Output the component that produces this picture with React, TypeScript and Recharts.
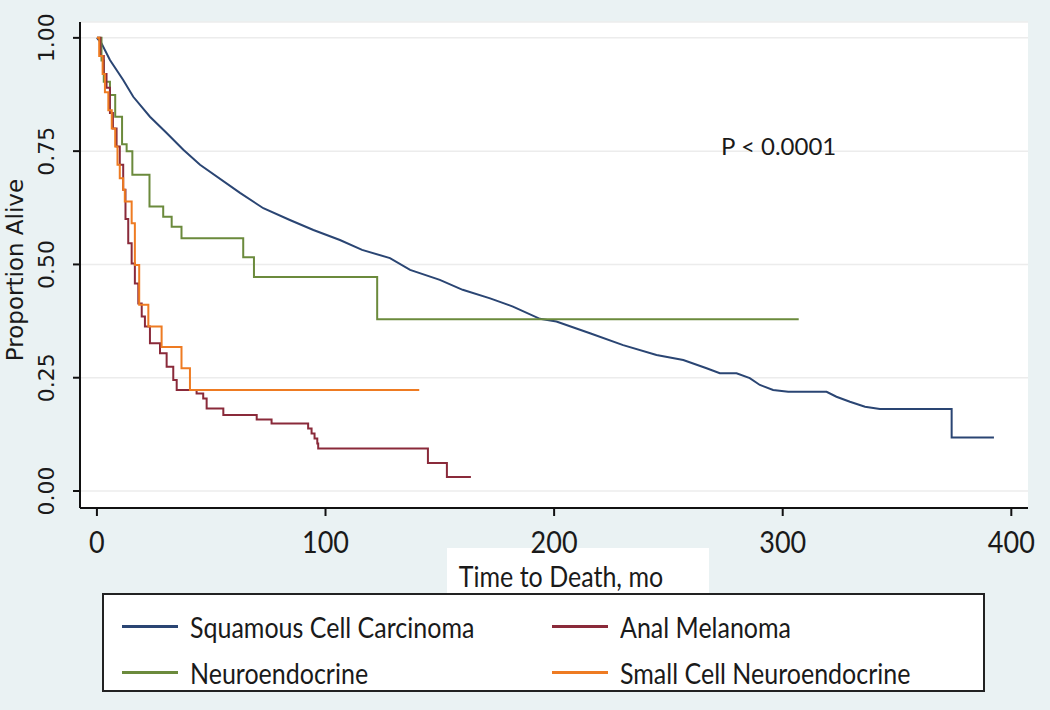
import React from "react";
import { LineChart, Line, XAxis, YAxis, CartesianGrid } from "recharts";

// ---- data ----
const xTicks = [0, 100, 200, 300, 400];
const yTicks = [0, 0.25, 0.5, 0.75, 1];

const squamousT = [0, 2, 5.7, 11.5, 15.9, 23.2, 30.5, 37.8, 45.1, 62.6, 72.8, 84.4, 94.7, 106.3, 116, 128.2, 137, 150, 160, 172, 182, 193.8, 201, 215.7, 230.2, 244.8, 256.5, 266.7, 272.5, 279.8, 285.6, 290, 295.8, 302.4, 319.2, 323.5, 329.4, 336, 342.5, 373.9, 373.9, 392.4];
const squamousP = [1, 0.988, 0.951, 0.907, 0.87, 0.826, 0.79, 0.753, 0.72, 0.658, 0.624, 0.598, 0.576, 0.554, 0.532, 0.514, 0.488, 0.466, 0.444, 0.425, 0.407, 0.38, 0.374, 0.348, 0.322, 0.3, 0.289, 0.271, 0.26, 0.26, 0.249, 0.234, 0.223, 0.219, 0.219, 0.208, 0.197, 0.186, 0.181, 0.181, 0.118, 0.118];

const melanomaT = [0, 1.5, 3, 4.2, 5.7, 7, 8.6, 10, 11.5, 12.5, 13.7, 15.2, 16.6, 18.1, 19.6, 21, 23.2, 27.6, 30.5, 33.4, 34.9, 43.6, 46.5, 48, 55.3, 69.9, 76.4, 92.4, 93.9, 95.2, 96.4, 96.8, 144.8, 153.1, 163.6];
const melanomaP = [1, 0.96, 0.92, 0.89, 0.834, 0.8, 0.76, 0.72, 0.665, 0.6, 0.547, 0.502, 0.458, 0.414, 0.385, 0.363, 0.326, 0.304, 0.274, 0.245, 0.223, 0.215, 0.204, 0.182, 0.168, 0.158, 0.149, 0.138, 0.127, 0.116, 0.105, 0.094, 0.062, 0.031, 0.031];

const neuroT = [0, 2, 3, 5.7, 8, 11, 13, 15.5, 23, 29, 32.7, 37, 64, 68.7, 122.6, 307];
const neuroP = [1, 0.95, 0.903, 0.874, 0.826, 0.765, 0.75, 0.698, 0.628, 0.605, 0.583, 0.558, 0.516, 0.472, 0.379, 0.379];

const smallCellT = [0, 1, 2.5, 3.5, 5, 6.5, 8, 9, 10, 11.5, 12.2, 15.2, 16.6, 18.5, 22.5, 28.3, 37, 40.7, 141];
const smallCellP = [1, 0.96, 0.92, 0.88, 0.84, 0.8, 0.76, 0.72, 0.69, 0.665, 0.639, 0.591, 0.499, 0.411, 0.363, 0.318, 0.271, 0.223, 0.223];

const seriesNames = ["Squamous Cell Carcinoma", "Anal Melanoma", "Neuroendocrine", "Small Cell Neuroendocrine"];
const seriesColors = ["#2a4573", "#8a2a3a", "#6b8a3c", "#ee7b22"];

const zip = (t: number[], p: number[]) => t.map((v, i) => ({ t: v, p: p[i] }));
const squamous = zip(squamousT, squamousP);
const melanoma = zip(melanomaT, melanomaP);
const neuro = zip(neuroT, neuroP);
const smallCell = zip(smallCellT, smallCellP);

const HFONT = "Lato, sans-serif";
const VFONT = "'DejaVu Sans', Verdana, sans-serif";

const XTick = (props: any) => {
  const { x, y, payload } = props;
  return (
    <text x={x} y={y + 23} textAnchor="middle" dominantBaseline="central" fontFamily={HFONT} fontSize={27} fill="#1a1a1a"
      transform={`translate(0, ${-(y + 23) * 0.12}) scale(1, 1.12)`}>
      {payload.value}
    </text>
  );
};

const YTick = (props: any) => {
  const { y, payload } = props;
  const cx = 47;
  return (
    <text x={cx} y={y} transform={`rotate(-90, ${cx}, ${y})`} textAnchor="middle" dominantBaseline="central" fontFamily={VFONT} fontSize={22} fill="#1a1a1a">
      {Number(payload.value).toFixed(2)}
    </text>
  );
};

const XTitle = () => (
  <g>
    <rect x={447} y={548} width={262} height={46} fill="#ffffff" />
    <text x={561} y={576} textAnchor="middle" dominantBaseline="central" fontFamily={HFONT} fontSize={25} fill="#1a1a1a"
      transform={`translate(0, ${-576 * 0.15}) scale(1, 1.15)`}>
      Time to Death, mo
    </text>
  </g>
);

const YTitle = () => (
  <text x={15} y={270} transform="rotate(-90, 15, 270)" textAnchor="middle" dominantBaseline="central" fontFamily={VFONT} fontSize={23} fill="#1a1a1a">
    Proportion Alive
  </text>
);

export default function App() {
  const legendItems = [
    { name: seriesNames[0], color: seriesColors[0], left: 18, top: 31 },
    { name: seriesNames[1], color: seriesColors[1], left: 448, top: 31 },
    { name: seriesNames[2], color: seriesColors[2], left: 18, top: 77 },
    { name: seriesNames[3], color: seriesColors[3], left: 448, top: 77 },
  ];
  return (
    <div style={{ position: "absolute", left: 0, top: 0, width: 1050, height: 710, background: "#eaf2f3", overflow: "hidden" }}>
      <LineChart width={1050} height={710} margin={{ top: 22, right: 22, bottom: 162, left: 20 }}>
        <CartesianGrid horizontal vertical={false} stroke="#ececec" strokeWidth={1.5} fill="#ffffff" />
        <XAxis
          type="number"
          dataKey="t"
          domain={[-7.4, 407.3]}
          ticks={xTicks}
          allowDataOverflow
          height={40}
          tickSize={8}
          axisLine={{ stroke: "#111", strokeWidth: 2 }}
          tickLine={{ stroke: "#111", strokeWidth: 2 }}
          tick={<XTick />}
          label={<XTitle />}
        />
        <YAxis
          type="number"
          dataKey="p"
          domain={[-0.0375, 1.035]}
          ticks={yTicks}
          allowDataOverflow
          width={60}
          tickSize={7}
          axisLine={{ stroke: "#111", strokeWidth: 2 }}
          tickLine={{ stroke: "#111", strokeWidth: 2 }}
          tick={<YTick />}
          label={<YTitle />}
        />
        <Line data={squamous} dataKey="p" type="linear" stroke={seriesColors[0]} strokeWidth={2} dot={false} isAnimationActive={false} />
        <Line data={neuro} dataKey="p" type="stepAfter" stroke={seriesColors[2]} strokeWidth={2} dot={false} isAnimationActive={false} />
        <Line data={melanoma} dataKey="p" type="stepAfter" stroke={seriesColors[1]} strokeWidth={2} dot={false} isAnimationActive={false} />
        <Line data={smallCell} dataKey="p" type="stepAfter" stroke={seriesColors[3]} strokeWidth={2} dot={false} isAnimationActive={false} />
      </LineChart>
      <div style={{ position: "absolute", left: 721, top: 132, fontFamily: HFONT, fontSize: 24, color: "#1a1a1a", lineHeight: "28px", whiteSpace: "nowrap" }}>
        P &lt; 0.0001
      </div>
      <div style={{ position: "absolute", left: 102, top: 593, width: 879, height: 95, border: "2px solid #222", background: "#ffffff" }}>
        {legendItems.map((it) => (
          <div key={it.name} style={{ position: "absolute", left: it.left, top: it.top - 18, height: 36, display: "flex", alignItems: "center", whiteSpace: "nowrap" }}>
            <div style={{ width: 56, height: 3, background: it.color, marginRight: 12 }} />
            <span style={{ fontFamily: HFONT, fontSize: 25, color: "#1a1a1a", display: "inline-block", transform: "scaleY(1.18)" }}>{it.name}</span>
          </div>
        ))}
      </div>
    </div>
  );
}
